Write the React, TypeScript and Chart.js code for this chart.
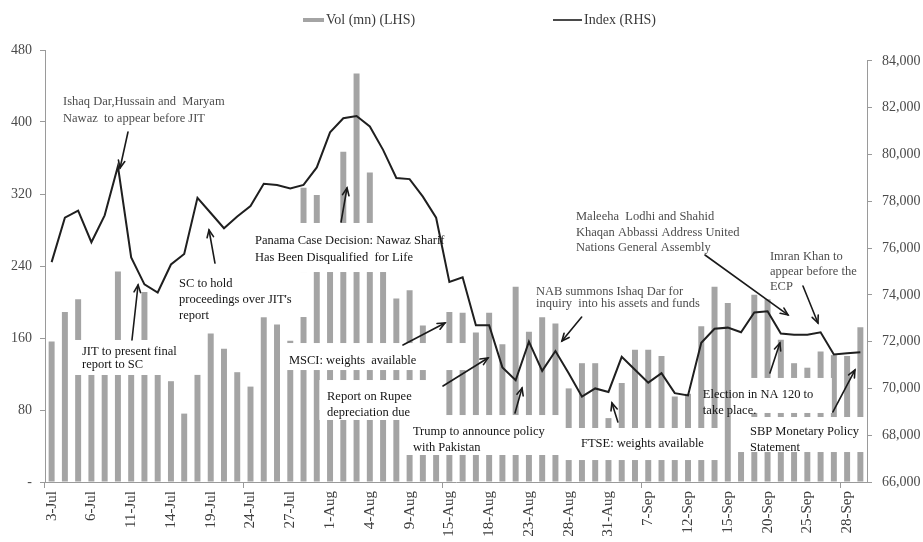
import React, { useEffect, useRef } from 'react';
import { Chart, registerables } from 'chart.js';

Chart.register(...registerables);

// Trading days, 3-Jul to 29-Sep
const dates = [
  '3-Jul', '4-Jul', '5-Jul', '6-Jul', '7-Jul', '10-Jul', '11-Jul', '12-Jul', '13-Jul', '14-Jul',
  '17-Jul', '18-Jul', '19-Jul', '20-Jul', '21-Jul', '24-Jul', '25-Jul', '26-Jul', '27-Jul', '28-Jul',
  '31-Jul', '1-Aug', '2-Aug', '3-Aug', '4-Aug', '7-Aug', '8-Aug', '9-Aug', '10-Aug', '11-Aug',
  '15-Aug', '16-Aug', '17-Aug', '18-Aug', '21-Aug', '22-Aug', '23-Aug', '24-Aug', '25-Aug', '28-Aug',
  '29-Aug', '30-Aug', '31-Aug', '5-Sep', '6-Sep', '7-Sep', '8-Sep', '11-Sep', '12-Sep', '13-Sep',
  '14-Sep', '15-Sep', '18-Sep', '19-Sep', '20-Sep', '21-Sep', '22-Sep', '25-Sep', '26-Sep', '27-Sep',
  '28-Sep', '29-Sep',
];

// Traded volume, million shares (left axis)
const volume = [
  156, 189, 203, 140, 130, 234, 145, 211, 128, 112,
  76, 119, 165, 148, 122, 106, 183, 175, 157, 327,
  319, 265, 367, 454, 344, 258, 204, 213, 174, 100,
  189, 188, 166, 188, 153, 217, 167, 183, 176, 104,
  132, 132, 71, 110, 147, 147, 140, 95, 98, 173,
  217, 199, 62, 208, 203, 158, 132, 127, 145, 141,
  140, 172,
];

// KSE-100 index close (right axis)
const kseIndex = [
  75400, 77300, 77600, 76250, 77400, 79500, 75600, 74450, 74100, 75300,
  75750, 78150, 77500, 76850, 77350, 77800, 78750, 78700, 78550, 78700,
  79450, 80950, 81550, 81650, 81200, 80200, 79000, 78950, 78200, 77300,
  74550, 74750, 72700, 72700, 70900, 70350, 72000, 70750, 71600, 70650,
  69650, 70000, 69850, 71350, 70800, 70250, 70650, 69800, 69700, 71950,
  72550, 72600, 72400, 73250, 73300, 72350, 72300, 72300, 72400, 71450,
  71500, 71550,
];

const volTicks = [0, 80, 160, 240, 320, 400, 480];
const indexTicks = [66000, 68000, 70000, 72000, 74000, 76000, 78000, 80000, 82000, 84000];
const INDEX_AXIS_MIN = 66000;
const INDEX_AXIS_MAX = 84470; // a little headroom above the 84,000 tick

// Event notes: x in category index, y in volume units (first line centre)
const notes = [
  { x: 0.86, y: 422.2, gap: 17, dark: false, lines: ['Ishaq Dar,Hussain and  Maryam', 'Nawaz  to appear before JIT'] },
  { x: 2.29, y: 144.4, gap: 13, dark: true, lines: ['JIT to present final', 'report to SC'] },
  { x: 9.61, y: 220, gap: 16, dark: true, lines: ['SC to hold', "proceedings over JIT's", 'report'] },
  { x: 15.34, y: 267.8, gap: 17, dark: true, lines: ['Panama Case Decision: Nawaz Sharif', 'Has Been Disqualified  for Life'] },
  { x: 17.9, y: 134.4, gap: 16, dark: true, lines: ['MSCI: weights  available'] },
  { x: 20.77, y: 94.4, gap: 16, dark: true, lines: ['Report on Rupee', 'depreciation due'] },
  { x: 27.25, y: 55.6, gap: 16, dark: true, lines: ['Trump to announce policy', 'with Pakistan'] },
  { x: 36.53, y: 211.1, gap: 12, dark: false, lines: ['NAB summons Ishaq Dar for', 'inquiry  into his assets and funds'] },
  { x: 39.93, y: 42.2, gap: 16, dark: true, lines: ['FTSE: weights available'] },
  { x: 39.55, y: 294.4, gap: 15.5, dark: false, lines: ['Maleeha  Lodhi and Shahid', 'Khaqan Abbassi Address United', 'Nations General Assembly'] },
  { x: 54.18, y: 250, gap: 15, dark: false, lines: ['Imran Khan to', 'appear before the', 'ECP'] },
  { x: 49.12, y: 96.7, gap: 16, dark: true, lines: ['Election in NA 120 to', 'take place.'] },
  { x: 52.67, y: 55.6, gap: 16, dark: true, lines: ['SBP Monetary Policy', 'Statement'] },
];

// White label panels behind the notes: [x0, x1, yTop, yBottom]
const panels = [
  [1.54, 9.69, 157.8, 118.9],
  [9.31, 19.4, 233.3, 183.3],
  [14.74, 30.2, 287.8, 233.3],
  [17.45, 31.48, 154.4, 124.4],
  [20.2, 29.52, 113.3, 68.9],
  [26.65, 38.3, 74.4, 30],
  [38.3, 50.5, 60, 24.4],
  [51.5, 58.85, 115.6, 76.7],
  [51.69, 61.42, 72.2, 33.3],
];

// Callout arrows: [fromX, fromY, toX, toY]
const pointers = [
  [5.76, 388.9, 5.16, 348.9],
  [6.06, 157.8, 6.52, 218.9],
  [12.32, 243.3, 11.87, 280],
  [21.83, 288.9, 22.28, 326.7],
  [26.5, 152.2, 29.67, 176.7],
  [29.52, 106.7, 32.91, 137.8],
  [34.95, 76.7, 35.48, 104.4],
  [39.98, 183.3, 38.49, 156.7],
  [42.71, 66.7, 42.26, 87.8],
  [49.28, 252.2, 55.54, 185.6],
  [56.67, 217.8, 57.8, 176.7],
  [54.18, 121.1, 54.93, 154.4],
  [58.93, 77.8, 60.59, 124.4],
];

const SERIF = '"Liberation Serif", "Times New Roman", serif';
const AXIS_GREY = '#9a9a9a';
const BAR_GREY = '#a4a4a4';
const LINE_INK = '#1f1f1f';

function drawArrow(ctx: CanvasRenderingContext2D, x0: number, y0: number, x1: number, y1: number) {
  ctx.beginPath();
  ctx.moveTo(x0, y0);
  ctx.lineTo(x1, y1);
  ctx.stroke();
  const a = Math.atan2(y1 - y0, x1 - x0);
  const len = 8;
  const spread = 0.42;
  ctx.beginPath();
  ctx.moveTo(x1 - len * Math.cos(a - spread), y1 - len * Math.sin(a - spread));
  ctx.lineTo(x1, y1);
  ctx.lineTo(x1 - len * Math.cos(a + spread), y1 - len * Math.sin(a + spread));
  ctx.stroke();
}

const calloutPlugin = {
  id: 'callouts',
  beforeDatasetDraw(chart: any, args: any) {
    // panels sit above the volume bars but below the index line
    if (args.index !== 1) return;
    const { ctx, scales } = chart;
    const xs = scales.x;
    const ys = scales.y;
    ctx.save();
    ctx.fillStyle = '#ffffff';
    panels.forEach(([a, b, t, bt]) => {
      const X0 = xs.getPixelForValue(a);
      const X1 = xs.getPixelForValue(b);
      const Y0 = ys.getPixelForValue(t);
      const Y1 = ys.getPixelForValue(bt);
      ctx.fillRect(X0, Y0, X1 - X0, Y1 - Y0);
    });
    ctx.restore();
  },
  afterDatasetsDraw(chart: any) {
    const { ctx, scales } = chart;
    const xs = scales.x;
    const ys = scales.y;
    ctx.save();
    ctx.font = `12.5px ${SERIF}`;
    ctx.textAlign = 'left';
    ctx.textBaseline = 'middle';
    notes.forEach((n) => {
      ctx.fillStyle = n.dark ? '#141414' : '#4d4d4d';
      const px = xs.getPixelForValue(n.x);
      const py = ys.getPixelForValue(n.y);
      n.lines.forEach((line, k) => ctx.fillText(line, px, py + k * n.gap));
    });
    ctx.strokeStyle = '#1a1a1a';
    ctx.lineWidth = 1.6;
    ctx.lineCap = 'round';
    pointers.forEach(([a, b, c, d]) => {
      drawArrow(ctx, xs.getPixelForValue(a), ys.getPixelForValue(b), xs.getPixelForValue(c), ys.getPixelForValue(d));
    });
    ctx.restore();
  },
  afterDraw(chart: any) {
    const { ctx, chartArea, scales } = chart;
    const y1 = scales.y1;
    ctx.save();
    // right axis line, from the top tick down to the base
    ctx.strokeStyle = AXIS_GREY;
    ctx.lineWidth = 1;
    ctx.beginPath();
    ctx.moveTo(chartArea.right + 0.5, y1.getPixelForValue(indexTicks[indexTicks.length - 1]));
    ctx.lineTo(chartArea.right + 0.5, chartArea.bottom);
    ctx.stroke();

    // legend
    const legendY = 20;
    ctx.font = `14px ${SERIF}`;
    ctx.textBaseline = 'middle';
    ctx.textAlign = 'left';
    ctx.fillStyle = BAR_GREY;
    ctx.fillRect(303, legendY - 2, 21, 4);
    ctx.fillStyle = '#3a3a3a';
    ctx.fillText(chart.data.datasets[0].label, 326, legendY);
    ctx.strokeStyle = '#4a4a4a';
    ctx.lineWidth = 2;
    ctx.beginPath();
    ctx.moveTo(553, legendY);
    ctx.lineTo(582, legendY);
    ctx.stroke();
    ctx.fillText(chart.data.datasets[1].label, 584, legendY);
    ctx.restore();
  },
};

export default function App() {
  const canvasRef = useRef<HTMLCanvasElement | null>(null);

  useEffect(() => {
    const canvas = canvasRef.current;
    if (!canvas) return;
    const chart = new Chart(canvas, {
      type: 'bar',
      data: {
        labels: dates,
        datasets: [
          {
            type: 'bar',
            label: 'Vol (mn) (LHS)',
            data: volume,
            yAxisID: 'y',
            backgroundColor: BAR_GREY,
            barPercentage: 0.9,
            categoryPercentage: 0.5,
            order: 2,
          },
          {
            type: 'line',
            label: 'Index (RHS)',
            data: kseIndex,
            yAxisID: 'y1',
            borderColor: LINE_INK,
            borderWidth: 2,
            pointRadius: 0,
            tension: 0,
            fill: false,
            order: 1,
          } as any,
        ],
      },
      options: {
        responsive: false,
        animation: false,
        devicePixelRatio: 1,
        layout: { padding: { top: 50, left: 0, right: 0, bottom: 0 } },
        plugins: {
          legend: { display: false },
          tooltip: { enabled: false },
        },
        scales: {
          x: {
            offset: true,
            border: { color: AXIS_GREY },
            grid: {
              offset: true,
              drawOnChartArea: false,
              tickLength: 6,
              color: (c: any) => (c.index % 15 === 0 ? AXIS_GREY : 'rgba(0,0,0,0)'),
            },
            ticks: {
              autoSkip: false,
              minRotation: 90,
              maxRotation: 90,
              padding: 3,
              color: '#3d3d3d',
              font: { family: SERIF, size: 15 },
              callback: (_v: any, i: number) => (i % 3 === 0 ? dates[i] : ''),
            },
            afterFit: (s: any) => { s.height = 60; },
          },
          y: {
            position: 'left',
            min: volTicks[0],
            max: volTicks[volTicks.length - 1],
            border: { color: AXIS_GREY },
            grid: { drawOnChartArea: false, tickLength: 5, color: AXIS_GREY },
            afterBuildTicks: (s: any) => { s.ticks = volTicks.map((v) => ({ value: v })); },
            ticks: {
              padding: 8,
              color: '#4a4a4a',
              font: { family: SERIF, size: 14 },
              callback: (v: any) => (Number(v) === 0 ? '-' : String(v)),
            },
            afterFit: (s: any) => { s.width = 45; },
          },
          y1: {
            position: 'right',
            min: INDEX_AXIS_MIN,
            max: INDEX_AXIS_MAX,
            border: { display: false },
            grid: { drawOnChartArea: false, tickLength: 5, color: AXIS_GREY },
            afterBuildTicks: (s: any) => { s.ticks = indexTicks.map((v) => ({ value: v })); },
            ticks: {
              padding: 10,
              color: '#4a4a4a',
              font: { family: SERIF, size: 14 },
              callback: (v: any) => Number(v).toLocaleString('en-US'),
            },
            afterFit: (s: any) => { s.width = 56; },
          },
        },
      },
      plugins: [calloutPlugin],
    });
    return () => chart.destroy();
  }, []);

  return (
    <div style={{ position: 'absolute', left: 0, top: 0, width: 923, height: 542, background: '#ffffff' }}>
      <canvas ref={canvasRef} width={923} height={542} style={{ display: 'block' }} />
    </div>
  );
}
